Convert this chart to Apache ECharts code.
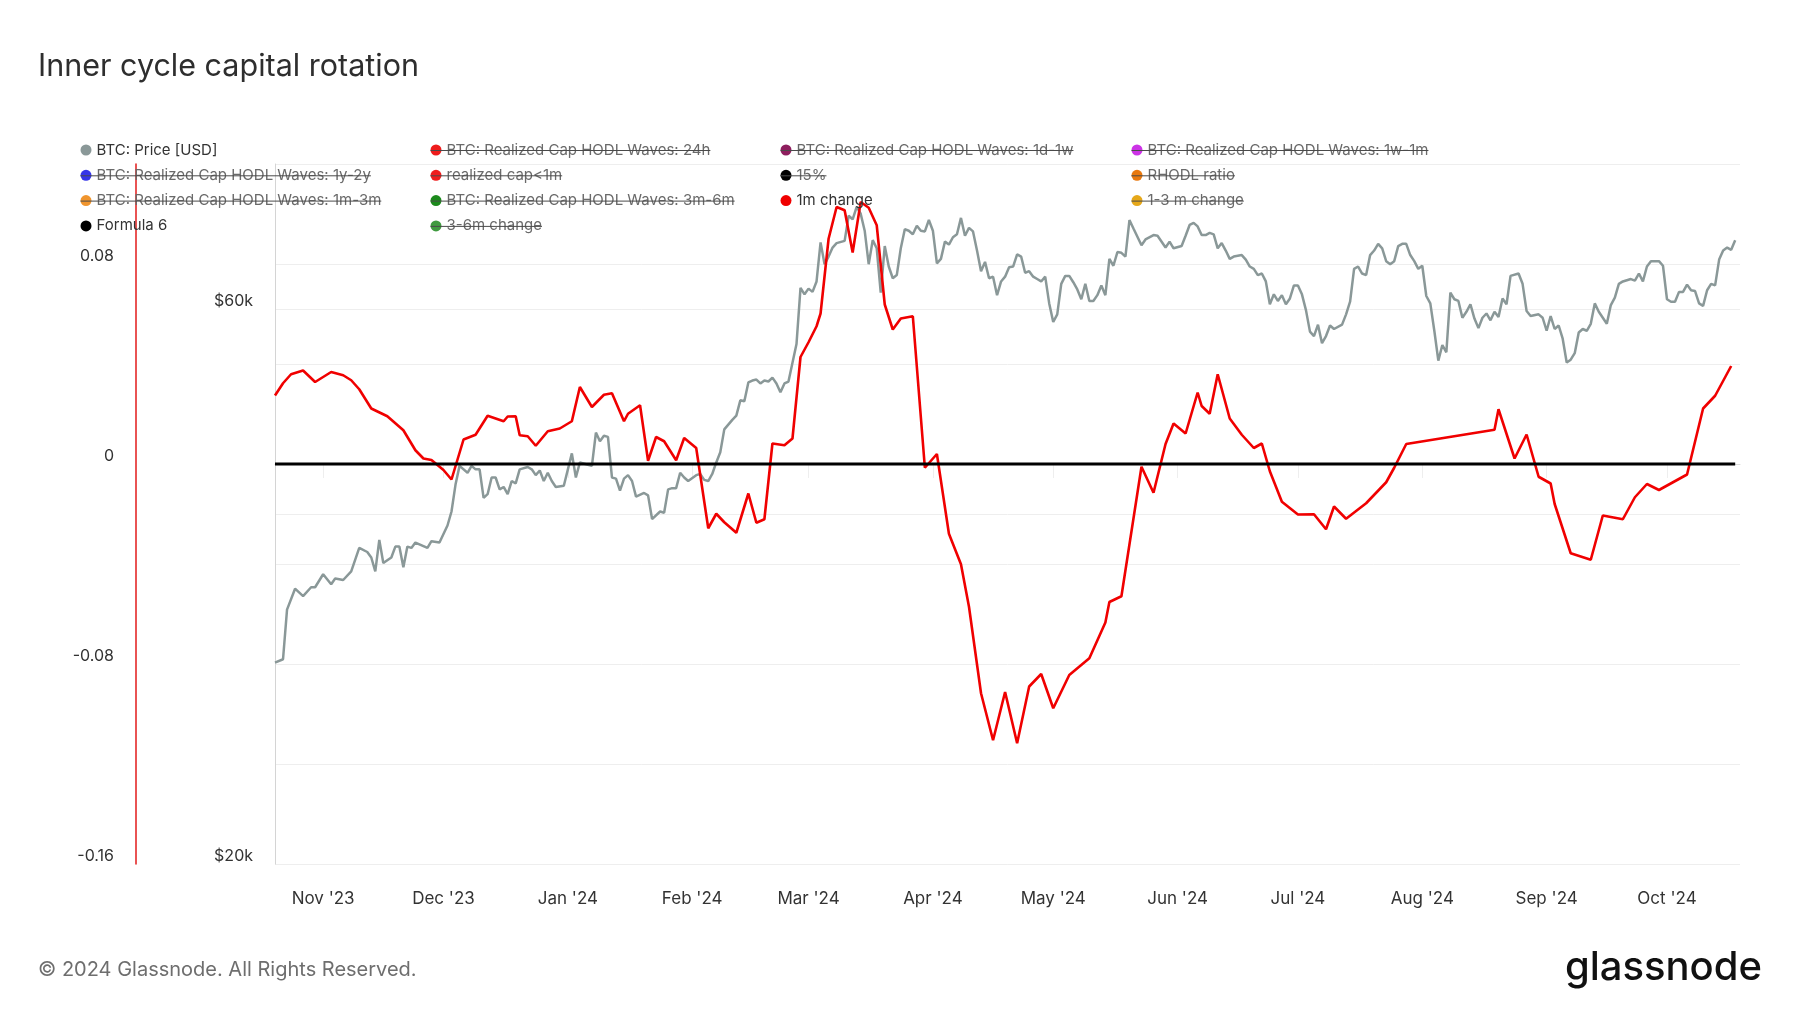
<!DOCTYPE html>
<html><head><meta charset="utf-8">
<script src="https://cdn.jsdelivr.net/npm/echarts@6/dist/echarts.min.js"></script>
<style>html,body{margin:0;padding:0;background:#fff}#c{width:1800px;height:1013px}</style>
</head><body><div id="c"></div>
<script>
// ---------- data ----------
const startDate = [2023, 9, 20];            // day 0 = 20 Oct 2023
const endDay = 365.2;
const monthLabels = ['Jan','Feb','Mar','Apr','May','Jun','Jul','Aug','Sep','Oct','Nov','Dec'];

// BTC price [USD]  as [dayOffset, price]
const priceData = [
[0,29800],[2,30000],[3,33100],[5,34500],[7,34000],[9,34600],[10,34600],[12,35500],[14,34800],[15,35200],
[17,35100],[19,35700],[21,37400],[23,37100],[24,36700],[25,35700],[26,38000],[27,36300],[29,36700],[30,37500],
[31,37500],[32,36000],[33,37500],[34,37400],[35,37800],[38,37400],[39,37900],[41,37800],[43,39100],[44,40200],
[45,42400],[46,44000],[48,43400],[49,44000],[50,43700],[51,43700],[52,41300],[53,41600],[54,43000],[55,43000],
[56,42000],[57,42200],[58,41600],[59,42700],[60,42500],[61,43700],[63,43900],[64,43700],[65,43200],[66,43600],
[67,42700],[68,43400],[69,42700],[70,42200],[72,42300],[74,45100],[75,43000],[76,44300],[78,44100],[79,44000],
[80,47000],[81,46200],[82,46700],[83,46600],[84,43000],[85,42900],[86,41900],[87,42900],[88,43200],[89,42700],
[90,41400],[92,41700],[93,41500],[94,39600],[96,40200],[97,40100],[98,42000],[99,42100],[100,42100],[101,43400],
[102,43000],[103,42700],[105,43200],[106,43300],[107,42800],[108,42700],[109,43300],[110,44300],[111,45200],[112,47300],
[114,48200],[115,48600],[116,50100],[117,50000],[118,51900],[119,52100],[120,52200],[121,51800],[122,52100],[123,52000],
[124,52400],[125,51800],[126,50900],[127,51800],[128,52000],[130,56000],[131,62600],[132,61800],[133,62500],[134,62100],
[135,63400],[136,68500],[137,65600],[138,66600],[139,67800],[140,68400],[142,68700],[143,72200],[144,71700],[145,73500],
[146,72500],[147,70100],[148,65600],[149,68800],[150,67700],[151,62000],[152,68000],[153,65300],[154,63800],[155,64200],
[156,67700],[157,70300],[158,70100],[159,69600],[160,70800],[161,70100],[162,70000],[163,71600],[164,70100],[165,65700],
[166,66300],[167,68600],[168,68200],[169,69200],[170,69600],[171,71900],[172,69400],[173,70500],[174,70000],[175,67400],
[176,64700],[177,65900],[178,63800],[179,64000],[180,61700],[181,63400],[182,64000],[183,65200],[184,65300],[185,66900],
[186,66600],[187,64500],[188,64700],[189,64000],[190,63700],[191,63400],[192,64000],[193,60700],[194,58500],[195,59400],
[196,63100],[197,64100],[198,64100],[199,63300],[200,62400],[201,61200],[202,63100],[203,61000],[204,61000],[205,61700],
[206,62900],[207,61700],[208,66300],[209,65400],[210,67200],[211,67100],[212,66600],[213,71600],[214,70400],[216,68100],
[217,68900],[219,69500],[220,69400],[222,67800],[223,68600],[224,67700],[226,68000],[227,69400],[228,70900],[229,71200],
[230,70700],[231,69500],[232,69500],[233,69800],[234,69600],[235,67700],[236,68400],[237,67400],[238,66300],[239,66600],
[241,66800],[242,66200],[243,65300],[244,65000],[245,64200],[246,64400],[247,63400],[248,60600],[249,61800],[250,61000],
[251,61700],[252,60600],[253,61300],[254,62900],[255,62900],[256,61800],[257,59900],[258,57400],[259,56900],[260,58200],
[261,56100],[262,56900],[263,58100],[264,57700],[266,58200],[267,59400],[268,60900],[269,65000],[270,65300],[271,64400],
[272,64200],[273,66800],[274,67400],[275,68300],[276,67700],[277,66000],[278,65600],[279,66000],[280,68000],[281,68300],
[282,68300],[283,66800],[284,66000],[285,65000],[286,65400],[287,61600],[288,60700],[289,57500],[290,54200],[291,55900],
[292,55100],[293,62000],[294,61200],[295,61000],[296,59000],[297,59700],[298,60600],[299,58900],[300,57800],[301,59000],
[302,59500],[303,58700],[304,59700],[305,59100],[306,61300],[307,60600],[308,64100],[310,64400],[311,63100],[312,59800],
[313,59200],[315,59400],[316,59000],[317,57500],[318,59200],[319,57700],[320,58100],[321,56600],[322,54000],[323,54300],
[324,55000],[325,57300],[326,57700],[327,57500],[328,58300],[329,60700],[330,59700],[332,58300],[333,60500],[334,61400],
[335,63100],[336,63400],[338,63700],[339,63500],[340,64400],[341,63400],[342,65300],[343,66000],[345,66000],[346,65400],
[347,61200],[348,60900],[349,60900],[350,62100],[351,62100],[352,63000],[353,62300],[354,62200],[355,60700],[356,60400],
[357,62300],[358,63100],[359,62900],[360,66200],[361,67400],[362,67800],[363,67500],[364,68800]
];

// 1m change  as [dayOffset, value]
const change1mData = [
[0,0.0274],[2,0.0323],[4,0.0359],[7,0.0374],[10,0.0328],[12,0.0348],[14,0.0368],[17,0.0355],[19,0.0335],[21,0.0299],
[24,0.0222],[28,0.0191],[32,0.0135],[35,0.0055],[37,0.0022],[39,0.0016],[42,-0.0024],[44,-0.0062],[47,0.0098],[50,0.0117],
[53,0.0193],[57,0.0171],[58,0.0190],[60,0.0191],[61,0.0115],[63,0.0111],[65,0.0073],[68,0.0131],[71,0.0142],[74,0.0171],
[76,0.0308],[79,0.0228],[82,0.0277],[84,0.0283],[87,0.0171],[88,0.0201],[91,0.0235],[93,0.0013],[95,0.0108],[97,0.0091],
[100,0.0015],[102,0.0104],[105,0.0064],[108,-0.0257],[110,-0.0199],[112,-0.0233],[115,-0.0275],[118,-0.0118],[120,-0.0235],[122,-0.0221],
[124,0.0082],[127,0.0075],[129,0.0102],[131,0.0428],[133,0.0487],[135,0.0551],[136,0.0602],[138,0.0901],[140,0.1028],[142,0.1015],
[144,0.0846],[146,0.1048],[148,0.1025],[150,0.0955],[152,0.0638],[154,0.0538],[156,0.0582],[159,0.0591],[162,-0.0015],[165,0.0040],
[168,-0.0279],[171,-0.0401],[173,-0.0571],[176,-0.0917],[179,-0.1105],[182,-0.0912],[185,-0.1117],[188,-0.0890],[191,-0.0840],[194,-0.0977],
[198,-0.0844],[203,-0.0777],[207,-0.0634],[208,-0.0552],[211,-0.0529],[216,-0.0011],[219,-0.0115],[222,0.0080],[224,0.0162],[227,0.0122],
[230,0.0286],[231,0.0232],[233,0.0201],[235,0.0359],[238,0.0182],[241,0.0117],[244,0.0064],[246,0.0082],[248,-0.0029],[251,-0.0151],
[255,-0.0202],[259,-0.0201],[262,-0.0261],[264,-0.0170],[267,-0.0219],[272,-0.0157],[277,-0.0073],[279,-0.0015],[282,0.0080],[304,0.0137],
[305,0.0219],[309,0.0022],[312,0.0118],[315,-0.0051],[318,-0.0078],[319,-0.0160],[323,-0.0357],[328,-0.0383],[331,-0.0206],[336,-0.0221],
[339,-0.0133],[342,-0.0080],[345,-0.0104],[352,-0.0042],[356,0.0222],[359,0.0273],[363,0.0392]
];

// Formula 6 (zero line)
const formula6Data = [[0,0],[364,0]];

// axis ticks
const priceGridTicks = [20000, 40000, 60000, 80000];
const priceLabelTicks = [20000, 60000];

// legend columns: [name, color, struck-through]
const legendColumns = [
  [['BTC: Price [USD]','#8a9898',false],['BTC: Realized Cap HODL Waves: 1y-2y','#3535e8',true],['BTC: Realized Cap HODL Waves: 1m-3m','#f0952e',true],['Formula 6','#000000',false]],
  [['BTC: Realized Cap HODL Waves: 24h','#ee1c1c',true],['realized cap<1m','#ee1c1c',true],['BTC: Realized Cap HODL Waves: 3m-6m','#1c8a1c',true],['3-6m change','#3f9a3f',true]],
  [['BTC: Realized Cap HODL Waves: 1d-1w','#8e1e5e',true],['15%','#000000',true],['1m change','#f00000',false]],
  [['BTC: Realized Cap HODL Waves: 1w-1m','#cc33e6',true],['RHODL ratio','#e8780e',true],['1-3 m change','#e6a81a',true]]
];
const legendLefts = [80.5, 430.5, 780.5, 1131.5];

// ---------- build ----------
const START = new Date(startDate[0], startDate[1], startDate[2]).getTime();
const DAY = 86400000;
const toTime = arr => arr.map(p => [START + p[0]*DAY, p[1]]);

const FONT = 'Inter';
const LEG_TOP = 142, LEG_ROW = 25.3, LEG_ICON = 11, LEG_FS = 15, LEG_LH = 16;

const measure = (() => {
  const c = document.createElement('canvas').getContext('2d');
  c.font = LEG_FS + 'px ' + FONT;
  return t => c.measureText(t).width;
})();

const series = [];
const dataMap = {
  'BTC: Price [USD]': {data: toTime(priceData), yAxisIndex: 1, width: 2.5, z: 2},
  '1m change': {data: toTime(change1mData), yAxisIndex: 0, width: 2.6, z: 3},
  'Formula 6': {data: toTime(formula6Data), yAxisIndex: 0, width: 3, z: 4}
};
const order = [];
for (let r = 0; r < 4; r++) for (let c = 0; c < 4; c++) if (legendColumns[c][r]) order.push(legendColumns[c][r]);
order.forEach(([name, color]) => {
  const d = dataMap[name];
  series.push({
    name, type: 'line', color, showSymbol: false, symbol: 'none',
    yAxisIndex: d ? d.yAxisIndex : 0,
    data: d ? d.data : [],
    z: d ? d.z : 1,
    lineStyle: {color, width: d ? d.width : 2},
    emphasis: {disabled: true}
  });
});

const legends = legendColumns.map((col, ci) => ({
  orient: 'vertical', left: legendLefts[ci], top: LEG_TOP, padding: 0,
  icon: 'circle', itemWidth: LEG_ICON, itemHeight: LEG_ICON,
  itemGap: LEG_ROW - LEG_LH, selectedMode: false,
  textStyle: {fontSize: LEG_FS, fontFamily: FONT, lineHeight: LEG_LH, color: '#333'},
  data: col.map(([name, , struck]) => ({name, textStyle: {color: struck ? '#6a6a6a' : '#333333'}}))
}));

const graphics = [];
legendColumns.forEach((col, ci) => {
  col.forEach(([name, , struck], ri) => {
    if (!struck) return;
    const y = LEG_TOP + LEG_LH / 2 + ri * LEG_ROW + 0.5;
    const x0 = legendLefts[ci];
    const x1 = legendLefts[ci] + LEG_ICON + 5 + measure(name);
    graphics.push({type: 'line', z: 100, shape: {x1: x0, y1: y, x2: x1, y2: y},
      style: {stroke: '#4a4a4a', lineWidth: 1}});
  });
});
graphics.push({type: 'text', left: 38, top: 960,
  style: {text: '© 2024 Glassnode. All Rights Reserved.', fontSize: 20, fontFamily: FONT, fill: '#6e6e6e'}});
graphics.push({type: 'text', right: 38, top: 948,
  style: {text: 'glassnode', fontSize: 40, fontWeight: 500, fontFamily: FONT, fill: '#111111'}});

const chart = echarts.init(document.getElementById('c'), null, {renderer: 'canvas'});
chart.setOption({
  animation: false,
  backgroundColor: '#ffffff',
  title: {text: 'Inner cycle capital rotation', left: 38, top: 51, padding: 0,
    textStyle: {fontSize: 30.5, fontWeight: 'normal', color: '#2e2e2e', fontFamily: FONT}},
  legend: legends,
  grid: {left: 275, right: 60, top: 164, bottom: 149, containLabel: false},
  xAxis: {
    type: 'time', min: START, max: START + endDay*DAY, splitNumber: 12,
    axisLine: {show: true, lineStyle: {color: '#dcdcdc', width: 1}},
    axisTick: {show: true, length: 14, lineStyle: {color: '#eeeeee'}},
    splitLine: {show: false},
    axisLabel: {
      margin: 26, fontSize: 17, fontFamily: FONT, color: '#333',
      formatter: v => {
        const d = new Date(v);
        if (d.getDate() !== 1 || d.getHours() !== 0) return '';
        return monthLabels[d.getMonth()] + " '" + String(d.getFullYear()).slice(2);
      }
    }
  },
  yAxis: [
    {
      type: 'value', position: 'left', offset: 139, min: -0.16, max: 0.12, interval: 0.04,
      axisLine: {show: true, lineStyle: {color: '#e21a1a', width: 1.5}},
      axisTick: {show: false},
      axisLabel: {margin: 22, verticalAlign: 'bottom', fontSize: 16, fontFamily: FONT, color: '#333',
        formatter: v => { const k = Math.round(v*100); return (k % 8 === 0) ? (k === 0 ? '0' : (k/100).toFixed(2)) : ''; }},
      splitLine: {show: true, lineStyle: {color: '#eeeeee', width: 1}}
    },
    {
      type: 'log', position: 'left', offset: 0, min: 20000, max: 80000, logBase: 10,
      axisLine: {show: true, lineStyle: {color: '#d4d4d4', width: 1}},
      axisTick: {show: false, customValues: priceGridTicks},
      axisLabel: {customValues: priceLabelTicks, margin: 22, verticalAlign: 'bottom', fontSize: 16,
        fontFamily: FONT, color: '#333', formatter: v => '$' + Math.round(v/1000) + 'k'},
      splitLine: {show: true, lineStyle: {color: '#eeeeee', width: 1}}
    }
  ],
  series,
  graphic: graphics
});
</script>
</body></html>
